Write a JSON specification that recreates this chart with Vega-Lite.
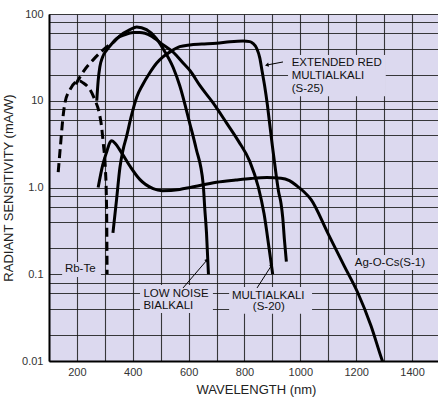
{
  "$schema": "https://vega.github.io/schema/vega-lite/v6.json",
  "width": 389,
  "height": 347,
  "autosize": {"type": "none"},
  "padding": {"left": 49, "top": 14, "right": 0, "bottom": 39},
  "background": "white",
  "config": {
    "view": {"fill": "#dcd9ef", "stroke": null},
    "font": "Liberation Sans",
    "axis": {
      "grid": true,
      "gridColor": "#1a1a1a",
      "gridWidth": 1.1,
      "gridOpacity": 0.85,
      "ticks": false,
      "domainColor": "#000000",
      "domainWidth": 2,
      "labelFont": "Liberation Sans",
      "labelFontSize": 11,
      "labelColor": "#333333",
      "titleFont": "Liberation Sans",
      "titleFontSize": 13,
      "titleFontWeight": "normal",
      "titleColor": "#222222",
      "labelOverlap": false
    }
  },
  "datasets": {
    "curves": [
      {"s": "RbTe", "x": 133, "y": 1.5},
      {"s": "RbTe", "x": 142, "y": 3.3},
      {"s": "RbTe", "x": 149, "y": 6.0},
      {"s": "RbTe", "x": 157, "y": 9.4},
      {"s": "RbTe", "x": 175, "y": 13.4},
      {"s": "RbTe", "x": 199, "y": 16.7},
      {"s": "RbTe", "x": 207, "y": 17},
      {"s": "RbTe", "x": 223, "y": 16},
      {"s": "RbTe", "x": 247, "y": 13.4},
      {"s": "RbTe", "x": 264, "y": 10.3},
      {"s": "RbTe", "x": 280, "y": 7.2},
      {"s": "RbTe", "x": 288, "y": 5.1},
      {"s": "RbTe", "x": 294, "y": 3.3},
      {"s": "RbTe", "x": 302, "y": 1.6},
      {"s": "RbTe", "x": 305, "y": 0.9},
      {"s": "RbTe", "x": 307, "y": 0.33},
      {"s": "RbTe", "x": 308, "y": 0.1},
      {"s": "BiDash", "x": 196, "y": 15.5},
      {"s": "BiDash", "x": 223, "y": 21.7},
      {"s": "BiDash", "x": 258, "y": 29.6},
      {"s": "BiDash", "x": 294, "y": 38.5},
      {"s": "BiDash", "x": 333, "y": 48},
      {"s": "Bialkali", "x": 333, "y": 48},
      {"s": "Bialkali", "x": 354, "y": 56},
      {"s": "Bialkali", "x": 390, "y": 66},
      {"s": "Bialkali", "x": 414, "y": 71},
      {"s": "Bialkali", "x": 449, "y": 66},
      {"s": "Bialkali", "x": 485, "y": 52},
      {"s": "Bialkali", "x": 508, "y": 40},
      {"s": "Bialkali", "x": 545, "y": 24},
      {"s": "Bialkali", "x": 568, "y": 15},
      {"s": "Bialkali", "x": 604, "y": 5.5},
      {"s": "Bialkali", "x": 627, "y": 2.8},
      {"s": "Bialkali", "x": 652, "y": 1.1},
      {"s": "Bialkali", "x": 658, "y": 0.56},
      {"s": "Bialkali", "x": 664, "y": 0.3},
      {"s": "Bialkali", "x": 671, "y": 0.1},
      {"s": "S20", "x": 271, "y": 10},
      {"s": "S20", "x": 276, "y": 17},
      {"s": "S20", "x": 282, "y": 24.5},
      {"s": "S20", "x": 292, "y": 32},
      {"s": "S20", "x": 307, "y": 38.5},
      {"s": "S20", "x": 324, "y": 45},
      {"s": "S20", "x": 342, "y": 52},
      {"s": "S20", "x": 373, "y": 58},
      {"s": "S20", "x": 402, "y": 61},
      {"s": "S20", "x": 425, "y": 61},
      {"s": "S20", "x": 465, "y": 56},
      {"s": "S20", "x": 505, "y": 45},
      {"s": "S20", "x": 546, "y": 36},
      {"s": "S20", "x": 581, "y": 27},
      {"s": "S20", "x": 606, "y": 22},
      {"s": "S20", "x": 640, "y": 15},
      {"s": "S20", "x": 687, "y": 9.5},
      {"s": "S20", "x": 735, "y": 5.6},
      {"s": "S20", "x": 779, "y": 3.4},
      {"s": "S20", "x": 819, "y": 2.0},
      {"s": "S20", "x": 850, "y": 1.0},
      {"s": "S20", "x": 870, "y": 0.5},
      {"s": "S20", "x": 889, "y": 0.19},
      {"s": "S20", "x": 901, "y": 0.1},
      {"s": "S1", "x": 276, "y": 1.0},
      {"s": "S1", "x": 292, "y": 1.8},
      {"s": "S1", "x": 307, "y": 2.6},
      {"s": "S1", "x": 318, "y": 3.3},
      {"s": "S1", "x": 325, "y": 3.45},
      {"s": "S1", "x": 338, "y": 3.2},
      {"s": "S1", "x": 354, "y": 2.7},
      {"s": "S1", "x": 390, "y": 1.76},
      {"s": "S1", "x": 425, "y": 1.24},
      {"s": "S1", "x": 473, "y": 0.97},
      {"s": "S1", "x": 505, "y": 0.92},
      {"s": "S1", "x": 568, "y": 0.95},
      {"s": "S1", "x": 606, "y": 1.0},
      {"s": "S1", "x": 700, "y": 1.15},
      {"s": "S1", "x": 769, "y": 1.22},
      {"s": "S1", "x": 823, "y": 1.27},
      {"s": "S1", "x": 880, "y": 1.3},
      {"s": "S1", "x": 931, "y": 1.28},
      {"s": "S1", "x": 961, "y": 1.2},
      {"s": "S1", "x": 990, "y": 1.03},
      {"s": "S1", "x": 1012, "y": 0.9},
      {"s": "S1", "x": 1038, "y": 0.73},
      {"s": "S1", "x": 1098, "y": 0.3},
      {"s": "S1", "x": 1157, "y": 0.125},
      {"s": "S1", "x": 1205, "y": 0.062},
      {"s": "S1", "x": 1253, "y": 0.0255},
      {"s": "S1", "x": 1294, "y": 0.01},
      {"s": "S1", "x": 1305, "y": 0.008},
      {"s": "S25", "x": 329, "y": 0.3},
      {"s": "S25", "x": 342, "y": 0.73},
      {"s": "S25", "x": 354, "y": 1.7},
      {"s": "S25", "x": 365, "y": 2.7},
      {"s": "S25", "x": 378, "y": 3.9},
      {"s": "S25", "x": 394, "y": 6.5},
      {"s": "S25", "x": 414, "y": 11},
      {"s": "S25", "x": 434, "y": 15},
      {"s": "S25", "x": 461, "y": 21},
      {"s": "S25", "x": 485, "y": 27},
      {"s": "S25", "x": 508, "y": 32},
      {"s": "S25", "x": 536, "y": 37},
      {"s": "S25", "x": 568, "y": 42},
      {"s": "S25", "x": 604, "y": 44},
      {"s": "S25", "x": 647, "y": 45},
      {"s": "S25", "x": 700, "y": 46},
      {"s": "S25", "x": 748, "y": 48},
      {"s": "S25", "x": 795, "y": 49},
      {"s": "S25", "x": 819, "y": 48},
      {"s": "S25", "x": 830, "y": 46},
      {"s": "S25", "x": 844, "y": 40},
      {"s": "S25", "x": 855, "y": 31},
      {"s": "S25", "x": 863, "y": 22},
      {"s": "S25", "x": 872, "y": 15},
      {"s": "S25", "x": 882, "y": 9},
      {"s": "S25", "x": 890, "y": 5.5},
      {"s": "S25", "x": 900, "y": 3},
      {"s": "S25", "x": 914, "y": 1.35},
      {"s": "S25", "x": 922, "y": 0.9},
      {"s": "S25", "x": 931, "y": 0.65},
      {"s": "S25", "x": 937, "y": 0.45},
      {"s": "S25", "x": 943, "y": 0.25},
      {"s": "S25", "x": 950, "y": 0.14}
    ],
    "boxes": [
      {"x": 956, "x2": 1306, "y": 11.3, "y2": 33.7},
      {"x": 147, "x2": 286, "y": 0.093, "y2": 0.138},
      {"x": 426, "x2": 687, "y": 0.0357, "y2": 0.0752},
      {"x": 745, "x2": 1042, "y": 0.035, "y2": 0.0713},
      {"x": 1185, "x2": 1453, "y": 0.112, "y2": 0.167}
    ],
    "labels": [
      {"t": "EXTENDED RED", "x": 969, "y": 27.2},
      {"t": "MULTIALKALI", "x": 969, "y": 19.3},
      {"t": "(S-25)", "x": 969, "y": 13.5},
      {"t": "Rb-Te", "x": 157, "y": 0.115},
      {"t": "LOW NOISE", "x": 438, "y": 0.0592},
      {"t": "BIALKALI", "x": 438, "y": 0.0431},
      {"t": "MULTIALKALI", "x": 755, "y": 0.0566},
      {"t": "(S-20)", "x": 830, "y": 0.0423},
      {"t": "Ag-O-Cs(S-1)", "x": 1195, "y": 0.136}
    ],
    "leaders": [
      {"k": "S25", "x": 880, "y": 25.8, "x2": 938, "y2": 28},
      {"k": "LN", "x": 580, "y": 0.0695, "x2": 666, "y2": 0.146},
      {"k": "S20", "x": 845, "y": 0.0695, "x2": 898, "y2": 0.128}
    ]
  },
  "encoding": {
    "x": {
      "field": "x",
      "type": "quantitative",
      "scale": {"domain": [100, 1493], "nice": false, "zero": false},
      "axis": {
        "values": [100, 200, 300, 400, 500, 600, 700, 800, 900, 1000, 1100, 1200, 1300, 1400],
        "format": "d",
        "labelExpr": "datum.value % 200 === 0 ? datum.label : ''",
        "title": "WAVELENGTH (nm)",
        "labelPadding": 5,
        "titlePadding": 6,
        "titleX": 207
      }
    },
    "y": {
      "field": "y",
      "type": "quantitative",
      "scale": {"type": "log", "domain": [0.01, 100], "nice": false},
      "axis": {
        "values": [0.01, 0.02, 0.04, 0.06, 0.08, 0.1, 0.2, 0.4, 0.6, 0.8, 1, 2, 4, 6, 8, 10, 20, 40, 60, 80, 100],
        "labelExpr": "datum.value === 100 ? '100' : datum.value === 10 ? '10' : datum.value === 1 ? '1.0' : datum.value === 0.1 ? '0.1' : datum.value === 0.01 ? '0.01' : ''",
        "title": "RADIANT SENSITIVITY (mA/W)",
        "labelPadding": 6,
        "titlePadding": 6
      }
    }
  },
  "layer": [
    {
      "data": {"name": "boxes"},
      "mark": {"type": "rect", "fill": "#dcd9ef"},
      "encoding": {"x2": {"field": "x2"}, "y2": {"field": "y2"}}
    },
    {
      "data": {"name": "curves"},
      "transform": [{"filter": "datum.s === 'RbTe' || datum.s === 'BiDash'"}],
      "mark": {"type": "line", "color": "#000000", "strokeWidth": 3, "strokeDash": [9, 5], "interpolate": "monotone", "clip": true},
      "encoding": {"detail": {"field": "s"}}
    },
    {
      "data": {"name": "curves"},
      "transform": [{"filter": "datum.s !== 'RbTe' && datum.s !== 'BiDash'"}],
      "mark": {"type": "line", "color": "#000000", "strokeWidth": 3, "interpolate": "monotone", "clip": true},
      "encoding": {"detail": {"field": "s"}}
    },
    {
      "data": {"name": "leaders"},
      "mark": {"type": "rule", "color": "#000000", "strokeWidth": 1},
      "encoding": {"x2": {"field": "x2"}, "y2": {"field": "y2"}}
    },
    {
      "data": {"name": "leaders"},
      "transform": [{"filter": "datum.k === 'S25'"}],
      "mark": {"type": "point", "shape": "triangle-up", "filled": true, "color": "#000000", "size": 18, "angle": 259, "opacity": 1},
      "encoding": {}
    },
    {
      "data": {"name": "leaders"},
      "transform": [{"filter": "datum.k === 'LN'"}],
      "mark": {"type": "point", "shape": "triangle-up", "filled": true, "color": "#000000", "size": 18, "angle": 41, "opacity": 1},
      "encoding": {"x": {"field": "x2", "type": "quantitative"}, "y": {"field": "y2", "type": "quantitative"}}
    },
    {
      "data": {"name": "leaders"},
      "transform": [{"filter": "datum.k === 'S20'"}],
      "mark": {"type": "point", "shape": "triangle-up", "filled": true, "color": "#000000", "size": 18, "angle": 33, "opacity": 1},
      "encoding": {"x": {"field": "x2", "type": "quantitative"}, "y": {"field": "y2", "type": "quantitative"}}
    },
    {
      "data": {"name": "labels"},
      "mark": {"type": "text", "align": "left", "baseline": "middle", "font": "Liberation Sans", "fontSize": 11.5, "color": "#111111"},
      "encoding": {"text": {"field": "t"}}
    },
    {
      "data": {"values": [{"y": 100}]},
      "mark": {"type": "rule", "color": "#000000", "strokeWidth": 1.5},
      "encoding": {"y": {"field": "y", "type": "quantitative"}, "x": {"datum": 100}, "x2": {"datum": 1493}}
    }
  ]
}
